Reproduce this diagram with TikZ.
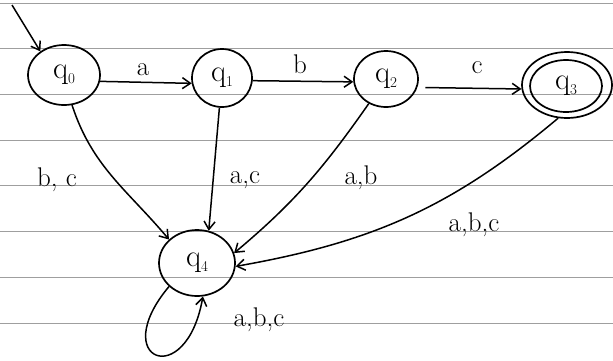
\documentclass[tikz,border=0pt]{standalone}
\usetikzlibrary{arrows.meta,shapes.geometric}
\begin{document}
\begin{tikzpicture}[x=1pt,y=-1pt,
  st/.style={draw, ellipse, line width=1.7pt, inner sep=0pt, font=\fontsize{31}{31}\selectfont},
  ed/.style={draw, line width=1.5pt, -{Straight Barb[length=8pt,width=11pt]}},
  lb/.style={font=\fontsize{27}{27}\selectfont, inner sep=0pt},
  paper/.style={draw=gray!75, line width=1pt}]
\useasboundingbox[fill=white] (0,0) rectangle (613,360);
% ruled paper
\foreach \yy in {3,48,94,140,185,231,277,323}{
  \draw[paper] (0,\yy) -- (613,\yy);
}
\newcommand{\qs}[1]{q\raisebox{-5pt}{\fontsize{15}{15}\selectfont #1}}
% states
\node[st, minimum width=72pt, minimum height=60pt] (q0) at (64,75) {\qs{0}};
\node[st, minimum width=60pt, minimum height=58pt] (q1) at (222,78) {\qs{1}};
\node[st, minimum width=64pt, minimum height=56pt] (q2) at (386,79) {\qs{2}};
\node[st, minimum width=90pt, minimum height=66pt] (q3) at (567,85) {};
\node[st, minimum width=72pt, minimum height=52pt] (q3in) at (566,86) {\qs{3}};
\node[st, minimum width=76pt, minimum height=66pt] (q4) at (197,263) {\qs{4}};
% initial
\coordinate (init) at (12,5);
\draw[ed] (init) -- (q0.135);
% transitions
\draw[ed] (q0.-10) -- (q1.190);
\draw[ed] (q1.-5) -- (q2.185);
\draw[ed, shorten <=8pt] (q2.-15) -- (q3.185);
\draw[ed] (q0.-75) to[out=-72,in=130] (q4.140);
\draw[ed] (q1.-95) -- (q4.70);
\draw[ed] (q2.-125) to[out=-125,in=40] (q4.15);
\draw[ed] (q3.-105) to[out=-140,in=10] (q4.-5);
\draw[ed] (q4.-140) to[out=-130,in=-100,looseness=7] (q4.-80);
% labels
\node[lb] (la) at (143,70) {a};
\node[lb] (lb1) at (300,64) {b};
\node[lb] (lc) at (477,68) {c};
\node[lb] (lbc) at (57,180) {b, c};
\node[lb] (lac) at (245,180) {a,c};
\node[lb] (lab) at (361,178) {a,b};
\node[lb] (labc) at (474,225) {a,b,c};
\node[lb] (labc2) at (259,320) {a,b,c};
\end{tikzpicture}
\end{document}
